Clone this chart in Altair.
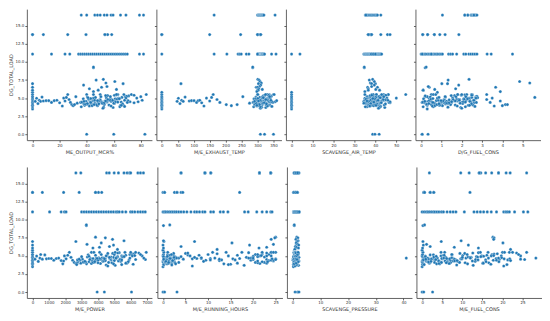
import altair as alt
import pandas as pd

# Row groups (in order): top 16.5 | 13.8 | 11.1 | 9.2 | zero | idle | low load | outliers | dense cluster A-F | very high load

dg_total_load = (
    [16.5, 16.5, 16.5, 16.5, 16.5, 16.5, 16.5, 16.5, 16.5, 16.5, 16.5, 16.5, 16.5]
    + [13.8, 13.8, 13.8, 13.8, 13.8, 13.8, 13.8, 13.8, 13.8]
    + [11.1, 11.1, 11.1, 11.1, 11.1, 11.1, 11.1, 11.1, 11.1, 11.1, 11.1, 11.1, 11.1, 11.1, 11.1, 11.1,
       11.1, 11.1, 11.1, 11.1, 11.1, 11.1, 11.1, 11.1, 11.1, 11.1, 11.1, 11.1, 11.1, 11.1, 11.1]
    + [9.2, 9.3]
    + [0.0, 0.0, 0.0]
    + [3.5, 3.8, 4.0, 4.2, 4.4, 4.6, 4.8, 5.0, 5.2, 5.5, 5.8, 6.1, 6.5, 7.0]
    + [4.55, 4.98, 4.24, 4.7, 4.55, 5.14, 4.6, 4.65, 4.65, 4.4, 4.65, 4.7, 4.35, 3.9, 5.0, 4.6, 5.1, 5.5,
       4.8, 4.4, 4.1, 3.95, 4.1, 5.2, 4.3]
    + [7.6, 7.5, 7.3, 7.1, 7.0, 6.8, 6.6, 6.5, 6.3, 6.2, 6.1, 5.9]
    + [3.8, 4.0, 4.1, 4.2, 4.3, 4.4, 4.5, 4.6, 4.7, 4.8, 4.9, 5.0, 5.1, 5.2, 5.3, 5.5, 4.45]
    + [4.35, 4.55, 3.9, 4.65, 4.15, 4.75, 4.25, 5.05, 4.85, 3.7, 5.45, 4.95, 4.05, 5.25, 4.5, 5.5, 4.6]
    + [4.4, 4.2, 5.15, 4.3, 4.7, 3.95, 4.55, 4.1, 5.35, 4.8, 4.25, 5.5, 4.45, 3.85, 4.65, 5.0, 4.35]
    + [4.9, 4.15, 4.5, 5.5, 4.05, 4.75, 3.75, 4.6, 5.2, 4.3, 4.85, 4.0, 5.5, 4.4, 4.7, 3.6, 4.55]
    + [4.45, 4.15, 4.85, 3.95, 5.1, 4.6, 4.3, 5.35, 4.05, 4.7, 4.5, 4.9, 4.2, 5.0, 4.4, 4.75, 3.8]
    + [4.55, 4.25, 4.95, 4.1, 4.65, 5.2, 4.35, 4.8, 3.9, 5.4, 4.45, 4.0, 4.7, 5.05, 4.2, 4.6, 5.5]
    + [5.5, 5.4, 5.0, 4.5, 5.2, 4.7, 5.5]
)

me_output_mcr = (
    [36, 40, 46, 48, 50, 53, 55, 58, 59.5, 65, 69, 79, 82]
    + [0, 8, 26, 39.5, 53.5, 55.5, 58.5, 0, 53.5]
    + [0, 14, 24, 27.5, 34, 35.5, 37, 38.5, 40, 41.5, 43, 44.5, 46, 47.5, 49, 50.5, 52, 53.5, 55, 56.5,
       58, 59.5, 61, 62.5, 64, 65.5, 67, 68.5, 70, 79, 82]
    + [45, 45]
    + [40, 60, 83]
    + [0, 0, 0, 0, 0, 0, 0, 0, 0, 0, 0, 0, 0, 0]
    + [2, 3, 4, 5, 6, 7, 8, 10, 12, 14, 16, 18, 20, 22, 23, 24, 25, 26, 27, 28, 29, 30, 31, 32, 33]
    + [52.3, 47, 60.8, 54.2, 66.9, 37.7, 55, 51, 42, 62, 48.5, 45]
    + [36, 38.5, 41, 43.5, 46, 48.5, 51, 53.5, 56, 58.5, 61, 63.5, 66, 68.5, 71, 40, 55]
    + [37, 39.5, 42, 44.5, 47, 49.5, 52, 54.5, 57, 59.5, 62, 64.5, 67, 69.5, 72, 50, 60]
    + [35.5, 38, 40.5, 43, 45.5, 48, 50.5, 53, 55.5, 58, 60.5, 63, 65.5, 68, 70.5, 45, 75]
    + [37.5, 40, 42.5, 45, 47.5, 50, 52.5, 55, 57.5, 60, 62.5, 65, 67.5, 70, 46, 52, 58]
    + [36.5, 39, 41.5, 44, 46.5, 49, 51.5, 54, 56.5, 59, 61.5, 64, 66.5, 69, 43, 57, 64.5]
    + [38, 40.5, 43, 45.5, 48, 50.5, 53, 55.5, 58, 60.5, 63, 65.5, 68, 41, 49, 54, 62]
    + [73, 75, 77, 78, 80, 81, 84]
)

me_exhaust_temp = (
    [164, 300, 302, 304, 306, 308, 310, 312, 314, 316, 318, 320, 355]
    + [0, 150, 247, 300, 305, 310, 0, 300, 310]
    + [0, 164, 204, 239, 244, 249, 265, 273, 300, 301, 302, 303, 304, 305, 306, 307, 308, 309, 310, 311,
       312, 313, 314, 315, 316, 318, 320, 322, 300, 344, 358]
    + [285, 285]
    + [309, 322, 350]
    + [0, 0, 0, 0, 0, 0, 0, 0, 0, 0, 0, 300, 296, 60]
    + [48, 52, 57, 62, 67, 73, 86, 93, 101, 109, 114, 119, 125, 132, 140, 150, 156, 161, 173, 182, 202,
       218, 236, 254, 275]
    + [301, 305, 308, 312, 303, 310, 306, 300, 304, 315, 302, 298]
    + [288, 292, 296, 300, 304, 308, 312, 316, 320, 324, 328, 332, 336, 340, 344, 350, 302]
    + [290, 294, 298, 302, 306, 310, 314, 318, 322, 326, 330, 334, 338, 342, 355, 300, 318]
    + [286, 291, 295, 299, 303, 307, 311, 315, 319, 323, 327, 331, 335, 345, 360, 297, 313]
    + [289, 293, 297, 301, 305, 309, 313, 317, 321, 325, 329, 333, 337, 348, 305, 309, 320]
    + [287, 292, 297, 302, 307, 312, 317, 322, 327, 332, 337, 294, 304, 314, 324, 299, 309]
    + [291, 296, 301, 306, 311, 316, 321, 326, 331, 336, 341, 298, 308, 318, 328, 303, 352]
    + [330, 335, 340, 345, 338, 342, 325]
)

scavenge_air_temp = (
    [35.2, 35.8, 36.4, 37, 37.6, 38.2, 38.8, 39.4, 40, 40.6, 41, 35.5, 42.6]
    + [36.6, 37.5, 38.2, 42.6, 45.8, 47, 37.5, 38.2, 36.6]
    + [0, 4, 34.5, 35, 35.3, 35.6, 36, 36.3, 36.6, 37, 37.3, 37.6, 38, 38.3, 38.6, 39, 39.3, 39.6, 40,
       40.3, 40.6, 41, 41.3, 41.6, 42, 42.3, 42.6, 43, 38, 39, 40]
    + [34.7, 34.7]
    + [38.7, 39.8, 41.8]
    + [0, 0, 0, 0, 0, 0, 0, 0, 0, 0, 0, 42, 41, 40]
    + [34.5, 35, 35.5, 36, 36.5, 37, 37.5, 38, 38.5, 39, 34.8, 35.3, 35.8, 36.3, 36.8, 37.3, 37.8, 38.3,
       38.8, 39.3, 40, 40.5, 41, 36, 37]
    + [38.7, 37.1, 39.5, 37.6, 38.2, 39.5, 38.2, 36.3, 36.6, 40.2, 36.6, 35]
    + [36, 37, 38, 39, 40, 41, 42, 43, 44, 45, 38.5, 39.5, 40.5, 41.5, 42.5, 35, 37.5]
    + [35.5, 36.5, 37.5, 38.5, 39.5, 40.5, 41.5, 42.5, 43.5, 44.5, 46, 36, 38, 40, 42, 44, 39]
    + [37, 38, 39, 40, 41, 42, 43, 36.5, 37.5, 38.5, 39.5, 40.5, 41.5, 42.5, 43.5, 45.5, 47]
    + [36, 37, 38, 39, 40, 41, 42, 43, 44, 34.5, 35.5, 38.5, 40.5, 46.5, 39.5, 41.5, 37.5]
    + [36.2, 37.2, 38.2, 39.2, 40.2, 41.2, 42.2, 43.2, 44.2, 37.7, 38.7, 39.7, 40.7, 41.7, 42.7, 45, 35.2]
    + [36.8, 37.8, 38.8, 39.8, 40.8, 41.8, 42.8, 43.8, 37.3, 38.3, 39.3, 40.3, 41.3, 42.3, 44.8, 36, 46.2]
    + [54.5, 45, 50, 47, 44, 46, 43]
)

dg_fuel_cons = (
    [1.05, 2.15, 2.3, 2.45, 2.5, 2.55, 2.6, 2.65, 2.7, 2.75, 2.3, 2.6, 2.15]
    + [0.08, 0.32, 0.65, 0.92, 1.18, 1.86, 0.08, 0.65, 0.32]
    + [0.0, 0.08, 0.15, 0.22, 0.3, 0.38, 0.45, 0.52, 0.6, 0.68, 0.75, 0.82, 0.9, 0.98, 1.05, 1.35, 1.45,
       1.55, 1.75, 2.1, 2.35, 2.45, 2.55, 2.65, 2.75, 3.25, 3.45, 4.5, 0.05, 0.5, 2.2]
    + [0.2, 0.25]
    + [0.05, 0.34, 0.05]
    + [0.3, 0.6, 0.9, 1.2, 1.5, 1.8, 2.1, 2.4, 0.2, 0.5, 0.8, 0.1, 0.4, 1.3]
    + [0.2, 0.4, 0.6, 0.8, 1.0, 1.2, 1.4, 1.6, 1.8, 2.0, 2.2, 2.4, 2.6, 3.6, 3.5, 3.9, 5.6, 3.23, 3.23,
       3.4, 4.15, 4.0, 4.25, 0.3, 0.9]
    + [2.36, 1.33, 4.85, 5.35, 1.02, 1.85, 0.35, 3.67, 1.7, 0.67, 0.1, 3.9]
    + [0.1, 0.3, 0.5, 0.7, 0.9, 1.1, 1.3, 1.5, 1.7, 1.9, 2.1, 2.3, 2.5, 2.7, 0.2, 0.6, 1.0]
    + [0.15, 0.35, 0.55, 0.75, 0.95, 1.15, 1.35, 1.55, 1.75, 1.95, 2.15, 2.35, 2.55, 2.75, 1.4, 1.8, 2.2]
    + [0.05, 0.25, 0.45, 0.65, 0.85, 1.05, 1.25, 1.45, 1.65, 1.85, 2.05, 2.25, 2.45, 2.65, 0.4, 0.8, 1.2]
    + [0.12, 0.32, 0.52, 0.72, 0.92, 1.12, 1.32, 1.52, 1.72, 1.92, 2.12, 2.32, 2.52, 2.72, 1.6, 2.0, 2.4]
    + [0.08, 0.28, 0.48, 0.68, 0.88, 1.08, 1.28, 1.48, 1.68, 1.88, 2.08, 2.28, 2.48, 2.68, 0.58, 1.38, 2.18]
    + [0.18, 0.38, 0.58, 0.78, 0.98, 1.18, 1.38, 1.58, 1.78, 1.98, 2.18, 2.38, 2.58, 2.78, 0.88, 1.68, 2.48]
    + [2.0, 2.5, 2.7, 1.5, 2.2, 2.6, 1.8]
)

me_power = (
    [2650, 2950, 4530, 4690, 4990, 5250, 5590, 5780, 5930, 6000, 6440, 6600, 6780]
    + [0, 600, 1900, 2850, 3850, 4030, 4230, 0, 3850]
    + [0, 1040, 1750, 1950, 2050, 3000, 3150, 3300, 3450, 3600, 3750, 3900, 4050, 4200, 4350, 4500,
       4650, 4800, 4950, 5100, 5190, 5490, 5700, 5990, 6100, 6250, 6440, 6600, 6750, 6890, 5300]
    + [3290, 3290]
    + [3950, 4390, 6050]
    + [0, 0, 0, 0, 0, 0, 0, 0, 0, 0, 0, 0, 0, 0]
    + [150, 250, 350, 450, 600, 750, 850, 1000, 1150, 1300, 1450, 1600, 1750, 1850, 1950, 2050, 2150,
       2250, 2350, 2450, 2550, 2650, 2750, 500, 1900]
    + [3850, 4450, 4890, 5590, 2650, 4200, 3330, 4950, 4700, 4090, 3690, 5190]
    + [2700, 2950, 3200, 3450, 3700, 3950, 4200, 4450, 4700, 4950, 5200, 5450, 5700, 5950, 6200, 3600, 4800]
    + [2800, 3050, 3300, 3550, 3800, 4050, 4300, 4550, 4800, 5050, 5300, 5550, 5800, 6050, 6300, 4100, 5100]
    + [2900, 3150, 3400, 3650, 3900, 4150, 4400, 4650, 4900, 5150, 5400, 5650, 5900, 6150, 3700, 4500, 5000]
    + [3000, 3250, 3500, 3750, 4000, 4250, 4500, 4750, 5000, 5250, 5500, 5750, 6000, 3850, 4350, 4600, 5350]
    + [2750, 3100, 3350, 3600, 3850, 4100, 4350, 4600, 4850, 5100, 5350, 5600, 5850, 6100, 4000, 4700, 5450]
    + [2850, 3200, 3450, 3700, 3950, 4200, 4450, 4700, 4950, 5200, 5450, 5700, 5950, 6250, 3800, 4400, 5050]
    + [6300, 6500, 6700, 6900, 6600, 6800, 6950]
)

me_running_hours = (
    [4.0, 9.3, 10.6, 21.4, 23.9, 23.9, 21.4, 10.6, 9.3, 4.0, 23.9, 21.4, 9.3]
    + [0, 0.35, 2.55, 3.1, 4.0, 4.4, 17.0, 0.35, 3.1]
    + [0, 0.3, 0.6, 1.0, 1.4, 1.8, 2.2, 2.6, 3.0, 3.5, 4.0, 4.6, 5.3, 6.2, 7, 7.5, 8.1, 8.8, 9.3, 10.6,
       11.2, 12.7, 13.4, 14.4, 18.1, 18.9, 20.8, 22, 23, 23.9, 24.2]
    + [0.1, 1.5]
    + [0, 0.35, 3.1]
    + [0.0, 0.1, 0.2, 0.0, 0.1, 0.2, 0.3, 0.0, 0.1, 0.2, 0.0, 0.1, 0.0, 0.2]
    + [0.5, 1.5, 2.5, 3.5, 4.5, 5.5, 6.5, 7.5, 8.5, 9.5, 10.5, 11.5, 12.5, 13.5, 14.5, 15.5, 16.5, 17.5,
       18.5, 19.5, 20.5, 21.5, 22.5, 23.5, 24.5]
    + [25, 24.8, 24, 0.1, 7.0, 15.3, 24.5, 19.2, 4.0, 23, 21.3, 12]
    + [0.2, 0.5, 0.8, 1.1, 1.4, 1.7, 2.0, 2.3, 2.6, 2.9, 4, 6, 8, 10, 12, 14, 16]
    + [0.3, 0.6, 0.9, 1.2, 1.5, 1.8, 2.1, 2.4, 2.7, 18, 19, 20, 21, 22, 23, 24, 25]
    + [0.4, 0.7, 1.0, 1.3, 1.6, 1.9, 2.2, 3.5, 5, 7, 9, 11, 13, 15, 17, 21.5, 23.5]
    + [0.1, 0.45, 0.75, 1.05, 1.35, 1.65, 1.95, 2.5, 20.5, 21, 22.5, 23, 24, 24.5, 19.5, 6.5, 12.5]
    + [0.25, 0.55, 0.85, 1.15, 1.45, 1.75, 2.05, 2.35, 2.65, 3.0, 20, 21, 22, 23, 24, 8.5, 14.5]
    + [0.15, 0.65, 0.95, 1.25, 1.55, 1.85, 2.15, 2.45, 2.8, 5.5, 10.5, 16.5, 19, 21.8, 23.2, 24.2, 25]
    + [22, 23, 24, 25, 21, 20, 24.5]
)

scavenge_pressure = (
    [0.5, 0.7, 0.9, 1.1, 1.3, 1.5, 1.7, 1.9, 2.1, 2.3, 0.6, 1.2, 1.8]
    + [0.3, 0.6, 0.9, 1.2, 1.5, 1.8, 0.45, 1.05, 1.65]
    + [0.3, 0.5, 0.7, 0.9, 1.1, 1.3, 1.5, 1.7, 1.9, 2.1, 2.3, 0.4, 0.6, 0.8, 1.0, 1.2, 1.4, 1.6, 1.8,
       2.0, 2.2, 0.5, 0.9, 1.3, 1.7, 2.1, 0.7, 1.1, 1.5, 1.9, 2.4]
    + [0.6, 0.6]
    + [0.9, 1.8, 2.3]
    + [0.3, 0.5, 0.8, 1.0, 1.2, 1.5, 0.6, 0.9, 1.1, 1.4, 0.7, 1.0, 1.3, 1.6]
    + [0.2, 0.4, 0.6, 0.8, 1.0, 1.2, 1.4, 1.6, 1.8, 2.0, 0.3, 0.5, 0.7, 0.9, 1.1, 1.3, 1.5, 1.7, 1.9,
       0.25, 0.45, 0.65, 0.85, 1.05, 1.25]
    + [1.5, 1.9, 1.2, 2.0, 1.6, 1.3, 1.8, 2.2, 1.0, 1.4, 2.1, 0.8]
    + [0.3, 0.5, 0.7, 0.9, 1.1, 1.3, 1.5, 1.7, 1.9, 2.1, 0.4, 0.8, 1.2, 1.6, 2.0, 0.6, 1.0]
    + [0.35, 0.55, 0.75, 0.95, 1.15, 1.35, 1.55, 1.75, 1.95, 2.15, 0.45, 0.85, 1.25, 1.65, 2.05, 0.65, 1.05]
    + [0.25, 0.45, 0.65, 0.85, 1.05, 1.25, 1.45, 1.65, 1.85, 2.25, 0.5, 0.9, 1.3, 1.7, 0.7, 1.1, 1.5]
    + [0.4, 0.6, 0.8, 1.0, 1.2, 1.4, 1.6, 1.8, 2.0, 2.3, 0.3, 0.7, 1.1, 1.5, 1.9, 0.9, 1.3]
    + [0.35, 0.6, 0.85, 1.1, 1.35, 1.6, 1.85, 2.1, 0.5, 0.75, 1.0, 1.25, 1.5, 1.75, 2.0, 0.9, 1.4]
    + [0.45, 0.7, 0.95, 1.2, 1.45, 1.7, 1.95, 2.2, 0.55, 0.8, 1.05, 1.3, 1.55, 1.8, 2.05, 1.15, 1.65]
    + [1.0, 1.2, 1.4, 1.6, 1.8, 41, 2.0]
)

me_fuel_cons = (
    [1.8, 9.6, 11.7, 14.2, 14.6, 15.8, 17.3, 19.0, 20.9, 21.9, 26.0, 14.2, 19.0]
    + [0.4, 0.6, 2.0, 2.9, 11.9, 0.4, 2.0, 2.9, 0.6]
    + [0, 0.5, 1.0, 1.4, 1.8, 2.3, 2.8, 3.2, 3.7, 4.2, 4.8, 5.3, 6.2, 7, 7.7, 8.4, 10.5, 12.9, 13.7,
       14.5, 15.3, 16.2, 17.2, 18.5, 20.3, 20.8, 21.2, 21.7, 23, 25.2, 26.3]
    + [0.2, 0.6]
    + [0, 0.4, 2.6]
    + [0, 0.1, 0.2, 0, 0.1, 0.3, 0.2, 0, 0.1, 0.2, 0, 0.1, 0.3, 0.2]
    + [0.5, 0.8, 1.1, 1.4, 1.7, 2.0, 2.3, 2.6, 2.9, 3.2, 3.5, 3.8, 4.1, 4.4, 4.7, 5.0, 5.3, 5.6, 5.9,
       6.2, 6.5, 6.8, 7.1, 7.4, 7.7]
    + [17.6, 17.9, 17.8, 9.7, 4.75, 20.1, 1.1, 11.5, 2.0, 8, 14, 22]
    + [0.5, 1.8, 3.1, 4.4, 5.7, 7.0, 8.3, 9.6, 10.9, 12.2, 13.5, 14.8, 16.1, 17.4, 18.7, 20.0, 21.3]
    + [1.0, 2.3, 3.6, 4.9, 6.2, 7.5, 8.8, 10.1, 11.4, 12.7, 14.0, 15.3, 16.6, 17.9, 19.2, 20.5, 21.8]
    + [0.2, 1.5, 2.8, 4.1, 5.4, 6.7, 8.0, 9.3, 10.6, 11.9, 13.2, 14.5, 15.8, 17.1, 18.4, 19.7, 22.0]
    + [0.8, 2.1, 3.4, 4.7, 6.0, 7.3, 8.6, 9.9, 11.2, 12.5, 13.8, 15.1, 16.4, 17.7, 19.0, 20.3, 24.5]
    + [0.3, 1.6, 2.9, 4.2, 5.5, 6.8, 8.1, 9.4, 10.7, 12.0, 13.3, 14.6, 15.9, 17.2, 18.5, 19.8, 21.1]
    + [0.9, 2.2, 3.5, 4.8, 6.1, 7.4, 8.7, 10.0, 11.3, 12.6, 13.9, 15.2, 16.5, 17.8, 19.1, 20.4, 21.7]
    + [22.5, 23.5, 24.5, 25.5, 24, 28.3, 26]
)

y_ticks = [0.0, 2.5, 5.0, 7.5, 10.0, 12.5, 15.0]

df = pd.DataFrame({
    "DG_TOTAL_LOAD": dg_total_load,
    "mcr": me_output_mcr,
    "exh": me_exhaust_temp,
    "sat": scavenge_air_temp,
    "dgf": dg_fuel_cons,
    "pow": me_power,
    "rh": me_running_hours,
    "sp": scavenge_pressure,
    "mef": me_fuel_cons,
})

panels_spec = [
    ("mcr", "ME_OUTPUT_MCR%", [-4.2, 88.2], [0, 20, 40, 60, 80]),
    ("exh", "M/E_EXHAUST_TEMP", [-17, 375], [0, 50, 100, 150, 200, 250, 300, 350]),
    ("sat", "SCAVENGE_AIR_TEMP", [-2.7, 57.0], [0, 10, 20, 30, 40, 50]),
    ("dgf", "D/G_FUEL_CONS", [-0.28, 5.88], [0, 1, 2, 3, 4, 5]),
    ("pow", "M/E_POWER", [-347, 7297], [0, 1000, 2000, 3000, 4000, 5000, 6000, 7000]),
    ("rh", "M/E_RUNNING_HOURS", [-1.25, 26.5], [0, 5, 10, 15, 20, 25]),
    ("sp", "SCAVENGE_PRESSURE", [-2.05, 43.05], [0, 10, 20, 30, 40]),
    ("mef", "M/E_FUEL_CONS", [-1.42, 29.7], [0, 5, 10, 15, 20, 25]),
]


def make_panel(key, title, domain, ticks, first):
    if first:
        y = alt.Y("DG_TOTAL_LOAD:Q", title="DG_TOTAL_LOAD",
                  scale=alt.Scale(domain=[-0.825, 17.325], nice=False, zero=False),
                  axis=alt.Axis(values=y_ticks, format=".1f"))
    else:
        y = alt.Y("DG_TOTAL_LOAD:Q", title=None,
                  scale=alt.Scale(domain=[-0.825, 17.325], nice=False, zero=False),
                  axis=alt.Axis(values=y_ticks, labels=False))
    return alt.Chart(df).mark_circle(
        size=10, color="#1f77b4", opacity=1, stroke="white", strokeWidth=0.3
    ).encode(
        x=alt.X(f"{key}:Q", title=title,
                scale=alt.Scale(domain=domain, nice=False, zero=False),
                axis=alt.Axis(values=ticks, format="d")),
        y=y,
    ).properties(width=126, height=132)


charts = [make_panel(k, t, d, tk, i % 4 == 0) for i, (k, t, d, tk) in enumerate(panels_spec)]

row1 = alt.hconcat(*charts[:4], spacing=1.5)
row2 = alt.hconcat(*charts[4:], spacing=1.5)

chart = alt.vconcat(row1, row2, spacing=13).properties(
    padding={"left": 0, "top": 0, "right": 0, "bottom": 0}
).configure_view(
    strokeOpacity=0
).configure_axis(
    grid=False,
    domainColor="#3c3c3c",
    tickColor="#3c3c3c",
    domainWidth=0.8,
    tickWidth=0.8,
    tickSize=2,
    labelFontSize=4,
    titleFontSize=5,
    labelColor="#333333",
    titleColor="#333333",
    labelFont="DejaVu Sans",
    titleFont="DejaVu Sans",
    titleFontWeight="normal",
    labelPadding=1,
    titlePadding=2,
)

chart.save("out.html", embed_options={"renderer": "svg", "actions": False})
